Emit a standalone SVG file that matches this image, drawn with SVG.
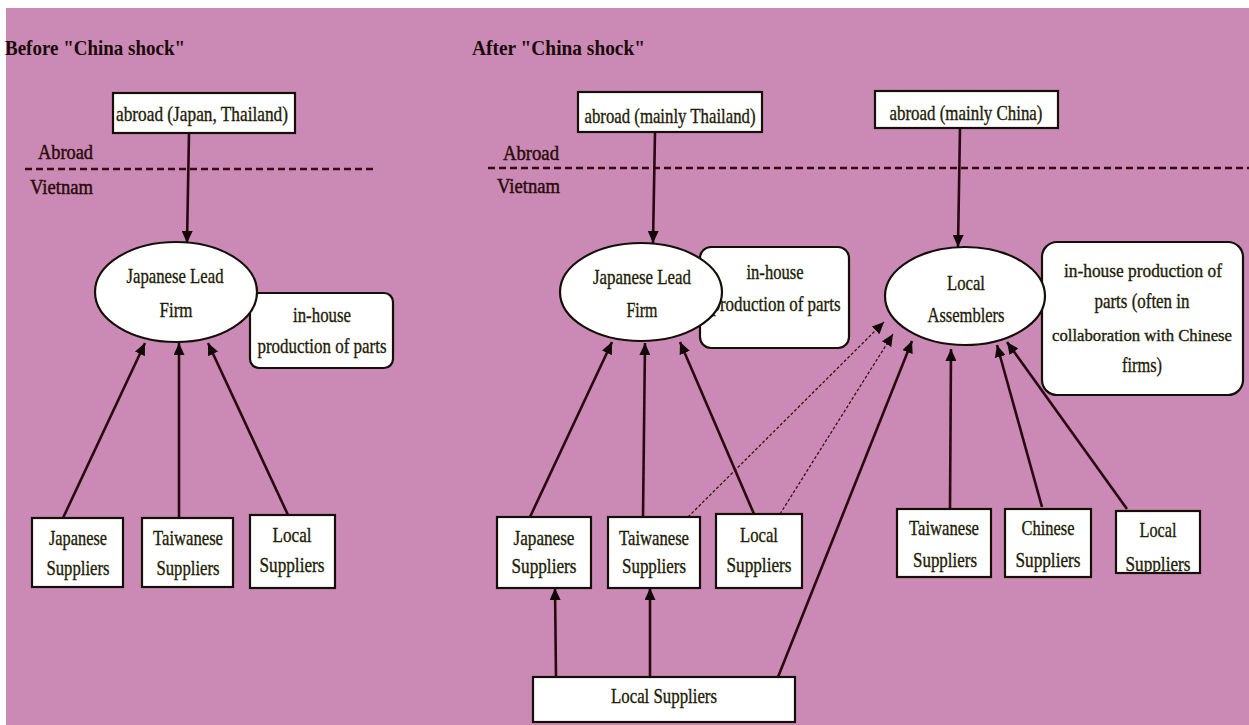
<svg xmlns="http://www.w3.org/2000/svg" width="1249" height="725" viewBox="0 0 1249 725">
<style>
.box{fill:#fff;stroke:#141008;stroke-width:2.2}
.ell{fill:#fff;stroke:#141008;stroke-width:2.2}
.t{font-family:"Liberation Serif","Times New Roman",serif;font-size:21px;fill:#1e1c06;stroke:#1e1c06;stroke-width:0.35;text-anchor:middle}
.s{font-size:19px}
.xs{font-size:17px}
.h{font-family:"Liberation Serif","Times New Roman",serif;font-size:21px;fill:#1a0a0a;font-weight:bold}
.lab{font-family:"Liberation Serif","Times New Roman",serif;font-size:20px;fill:#2a0a0a;stroke:#2a0a0a;stroke-width:0.45}
.edge{stroke:#2a0810;stroke-width:2.6;fill:none}
.dot{stroke:#3a1018;stroke-width:1.3;fill:none;stroke-dasharray:3 2}
.dash{stroke:#3a0a14;stroke-width:2.6;fill:none;stroke-dasharray:7 4}
</style>
<defs>
<marker id="ah" markerUnits="userSpaceOnUse" markerWidth="13" markerHeight="11" refX="12" refY="5.5" orient="auto">
<path d="M0,0 L12,5.5 L0,11 z" fill="#120808"/>
</marker>
<marker id="ahs" markerUnits="userSpaceOnUse" markerWidth="13" markerHeight="11" refX="12" refY="5.5" orient="auto">
<path d="M0,0 L12,5.5 L0,11 z" fill="#120808"/>
</marker>
<clipPath id="clipLS"><rect x="1116" y="511" width="84" height="62"/></clipPath>
</defs>
<rect x="0" y="0" width="1249" height="725" fill="#fff"/>
<rect x="6" y="8" width="1243" height="717" fill="#CB8AB5"/>

<g id="labels">
<text class="h" x="5" y="55" textLength="180" lengthAdjust="spacingAndGlyphs">Before "China shock"</text>
<text class="h" x="472" y="55" textLength="173" lengthAdjust="spacingAndGlyphs">After "China shock"</text>
<text class="lab" x="38" y="159" textLength="55" lengthAdjust="spacingAndGlyphs">Abroad</text>
<text class="lab" x="30" y="194" textLength="63" lengthAdjust="spacingAndGlyphs">Vietnam</text>
<text class="lab" x="503" y="160" textLength="56" lengthAdjust="spacingAndGlyphs">Abroad</text>
<text class="lab" x="497" y="193" textLength="63" lengthAdjust="spacingAndGlyphs">Vietnam</text>
<line class="dash" x1="25" y1="169" x2="377" y2="169"/>
<line class="dash" x1="488" y1="168" x2="1249" y2="168"/>
</g>

<g id="connectors">
<line class="edge" x1="189" y1="133" x2="187" y2="243" marker-end="url(#ah)"/>
<line class="edge" x1="63" y1="518" x2="145" y2="343" marker-end="url(#ah)"/>
<line class="edge" x1="179" y1="518" x2="179" y2="343" marker-end="url(#ah)"/>
<line class="edge" x1="288" y1="515" x2="208" y2="343" marker-end="url(#ah)"/>

<line class="edge" x1="655" y1="132" x2="653" y2="243" marker-end="url(#ah)"/>
<line class="edge" x1="530" y1="517" x2="612" y2="342" marker-end="url(#ah)"/>
<line class="edge" x1="643" y1="517" x2="645" y2="343" marker-end="url(#ah)"/>
<line class="edge" x1="754" y1="514" x2="680" y2="342" marker-end="url(#ah)"/>
<line class="dot" x1="688" y1="517" x2="884" y2="322" marker-end="url(#ahs)"/>
<line class="dot" x1="780" y1="514" x2="893" y2="334" marker-end="url(#ahs)"/>

<line class="edge" x1="960" y1="128" x2="958" y2="247" marker-end="url(#ah)"/>
<line class="edge" x1="778" y1="677" x2="912" y2="341" marker-end="url(#ah)"/>
<line class="edge" x1="950" y1="509" x2="951" y2="349" marker-end="url(#ah)"/>
<line class="edge" x1="1042" y1="507" x2="997" y2="345" marker-end="url(#ah)"/>
<line class="edge" x1="1127" y1="509" x2="1007" y2="342" marker-end="url(#ah)"/>
<line class="edge" x1="556" y1="677" x2="555" y2="588" marker-end="url(#ah)"/>
<line class="edge" x1="650" y1="677" x2="650" y2="588" marker-end="url(#ah)"/>
</g>

<g id="abroad-before">
<rect class="box" x="113" y="93" width="182" height="40"/>
<text class="t" x="202" y="121" textLength="172" lengthAdjust="spacingAndGlyphs">abroad (Japan, Thailand)</text>
</g>
<g id="inhouse-before">
<rect class="box" x="250" y="293" width="143" height="75" rx="9"/>
<text class="t" x="322" y="322" textLength="58" lengthAdjust="spacingAndGlyphs">in-house</text>
<text class="t" x="322" y="353" textLength="129" lengthAdjust="spacingAndGlyphs">production of parts</text>
</g>
<g id="lead-before">
<ellipse class="ell" cx="176" cy="292" rx="81" ry="50"/>
<text class="t" x="175" y="283" textLength="97" lengthAdjust="spacingAndGlyphs">Japanese Lead</text>
<text class="t" x="176" y="317" textLength="33" lengthAdjust="spacingAndGlyphs">Firm</text>
</g>
<g id="jp-sup-before">
<rect class="box" x="32" y="518" width="91" height="69"/>
<text class="t" x="78" y="545" textLength="58" lengthAdjust="spacingAndGlyphs">Japanese</text>
<text class="t" x="78" y="575" textLength="63" lengthAdjust="spacingAndGlyphs">Suppliers</text>
</g>
<g id="tw-sup-before">
<rect class="box" x="142" y="518" width="91" height="69"/>
<text class="t" x="188" y="545" textLength="70" lengthAdjust="spacingAndGlyphs">Taiwanese</text>
<text class="t" x="188" y="575" textLength="63" lengthAdjust="spacingAndGlyphs">Suppliers</text>
</g>
<g id="local-sup-before">
<rect class="box" x="250" y="515" width="85" height="73"/>
<text class="t" x="292" y="542" textLength="39" lengthAdjust="spacingAndGlyphs">Local</text>
<text class="t" x="292" y="572" textLength="65" lengthAdjust="spacingAndGlyphs">Suppliers</text>
</g>

<g id="abroad-thai">
<rect class="box" x="578" y="92" width="184" height="40"/>
<text class="t" x="670" y="123" textLength="171" lengthAdjust="spacingAndGlyphs">abroad (mainly Thailand)</text>
</g>
<g id="inhouse-after">
<rect class="box" x="700" y="247" width="149" height="101" rx="11"/>
<text class="t" x="775" y="279" textLength="57" lengthAdjust="spacingAndGlyphs">in-house</text>
<text class="t" x="776" y="311" textLength="129" lengthAdjust="spacingAndGlyphs">production of parts</text>
</g>
<g id="lead-after">
<ellipse class="ell" cx="641" cy="292" rx="81" ry="49"/>
<text class="t" x="642" y="284" textLength="98" lengthAdjust="spacingAndGlyphs">Japanese Lead</text>
<text class="t" x="642" y="317" textLength="31" lengthAdjust="spacingAndGlyphs">Firm</text>
</g>
<g id="abroad-china">
<rect class="box" x="875" y="91" width="183" height="37"/>
<text class="t" x="966" y="120" textLength="153" lengthAdjust="spacingAndGlyphs">abroad (mainly China)</text>
</g>
<g id="inhouse-china">
<rect class="box" x="1042" y="242" width="201" height="153" rx="15"/>
<text class="t s" x="1143" y="277" textLength="158" lengthAdjust="spacingAndGlyphs">in-house production of</text>
<text class="t" x="1142" y="308" textLength="95" lengthAdjust="spacingAndGlyphs">parts (often in</text>
<text class="t xs" x="1142" y="341" textLength="180" lengthAdjust="spacingAndGlyphs">collaboration with Chinese</text>
<text class="t" x="1142" y="372" textLength="40" lengthAdjust="spacingAndGlyphs">firms)</text>
</g>
<g id="local-assemblers">
<ellipse class="ell" cx="965" cy="296" rx="80" ry="49"/>
<text class="t" x="966" y="290" textLength="38" lengthAdjust="spacingAndGlyphs">Local</text>
<text class="t" x="966" y="322" textLength="77" lengthAdjust="spacingAndGlyphs">Assemblers</text>
</g>
<g id="jp-sup-after">
<rect class="box" x="497" y="517" width="94" height="71"/>
<text class="t" x="544" y="545" textLength="61" lengthAdjust="spacingAndGlyphs">Japanese</text>
<text class="t" x="544" y="573" textLength="65" lengthAdjust="spacingAndGlyphs">Suppliers</text>
</g>
<g id="tw-sup-after">
<rect class="box" x="608" y="517" width="92" height="71"/>
<text class="t" x="654" y="545" textLength="70" lengthAdjust="spacingAndGlyphs">Taiwanese</text>
<text class="t" x="654" y="573" textLength="64" lengthAdjust="spacingAndGlyphs">Suppliers</text>
</g>
<g id="local-sup-after">
<rect class="box" x="716" y="514" width="86" height="74"/>
<text class="t" x="759" y="542" textLength="38" lengthAdjust="spacingAndGlyphs">Local</text>
<text class="t" x="759" y="572" textLength="65" lengthAdjust="spacingAndGlyphs">Suppliers</text>
</g>
<g id="tw-sup-china">
<rect class="box" x="897" y="509" width="94" height="68"/>
<text class="t" x="944" y="535" textLength="70" lengthAdjust="spacingAndGlyphs">Taiwanese</text>
<text class="t" x="945" y="567" textLength="64" lengthAdjust="spacingAndGlyphs">Suppliers</text>
</g>
<g id="cn-sup">
<rect class="box" x="1005" y="509" width="86" height="68"/>
<text class="t" x="1048" y="535" textLength="53" lengthAdjust="spacingAndGlyphs">Chinese</text>
<text class="t" x="1048" y="567" textLength="65" lengthAdjust="spacingAndGlyphs">Suppliers</text>
</g>
<g id="local-sup-china">
<rect x="1116" y="511" width="84" height="62" fill="#fff"/>
<text class="t" x="1158" y="537" textLength="37" lengthAdjust="spacingAndGlyphs">Local</text>
<text class="t" x="1158" y="571" textLength="65" lengthAdjust="spacingAndGlyphs" clip-path="url(#clipLS)">Suppliers</text>
<rect class="box" x="1116" y="511" width="84" height="62" style="fill:none"/>
</g>
<g id="local-sup-bottom">
<rect class="box" x="533" y="677" width="262" height="45"/>
<text class="t" x="664" y="703" textLength="106" lengthAdjust="spacingAndGlyphs">Local Suppliers</text>
</g>
</svg>
